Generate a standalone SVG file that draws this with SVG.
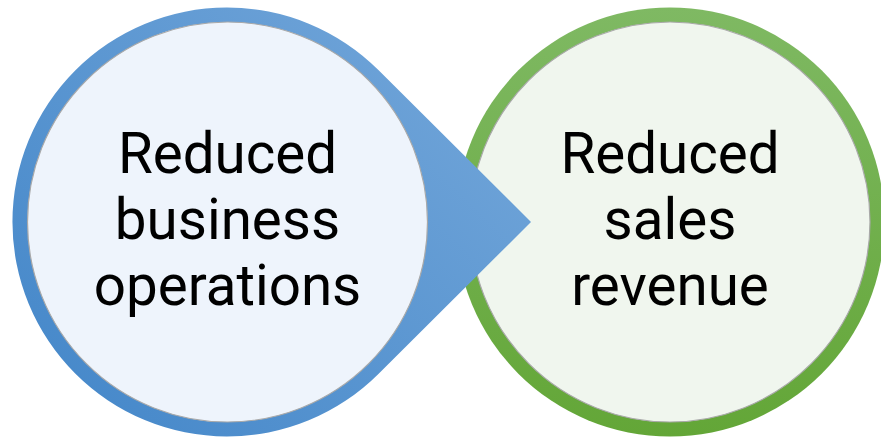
<svg xmlns="http://www.w3.org/2000/svg" width="881" height="438" viewBox="0 0 881 438">
  <defs>
    <linearGradient id="blueGrad" gradientUnits="userSpaceOnUse" x1="480" y1="0" x2="60" y2="438">
      <stop offset="0" stop-color="#74a7da"/>
      <stop offset="1" stop-color="#4487c9"/>
    </linearGradient>
    <linearGradient id="greenGrad" gradientUnits="userSpaceOnUse" x1="0" y1="7" x2="0" y2="437">
      <stop offset="0" stop-color="#7fb963"/>
      <stop offset="1" stop-color="#63a637"/>
    </linearGradient>
  </defs>
  <style>
    .label { font-family: Roboto, "Liberation Sans", sans-serif; font-size: 56.5px; fill: #000; text-anchor: middle; }
    .inner { stroke: #a9a9a9; stroke-width: 1.2; }
  </style>
  <g id="node-sales">
    <circle cx="670" cy="222" r="214.5" fill="url(#greenGrad)"/>
    <circle class="inner" cx="670" cy="222" r="200" fill="#f0f6ee"/>
    <text class="label" x="670" y="173">Reduced</text>
    <text class="label" x="670" y="239">sales</text>
    <text class="label" x="670" y="305">revenue</text>
  </g>
  <g id="connectors">
    <path d="M531,222 L378.4,70.1 A214.5,214.5 0 1 0 378.4,373.9 Z" fill="url(#blueGrad)"/>
  </g>
  <g id="node-operations">
    <circle class="inner" cx="227.5" cy="222" r="200" fill="#eef4fc"/>
    <text class="label" x="227.5" y="173">Reduced</text>
    <text class="label" x="227.5" y="239">business</text>
    <text class="label" x="227.5" y="305">operations</text>
  </g>
</svg>
